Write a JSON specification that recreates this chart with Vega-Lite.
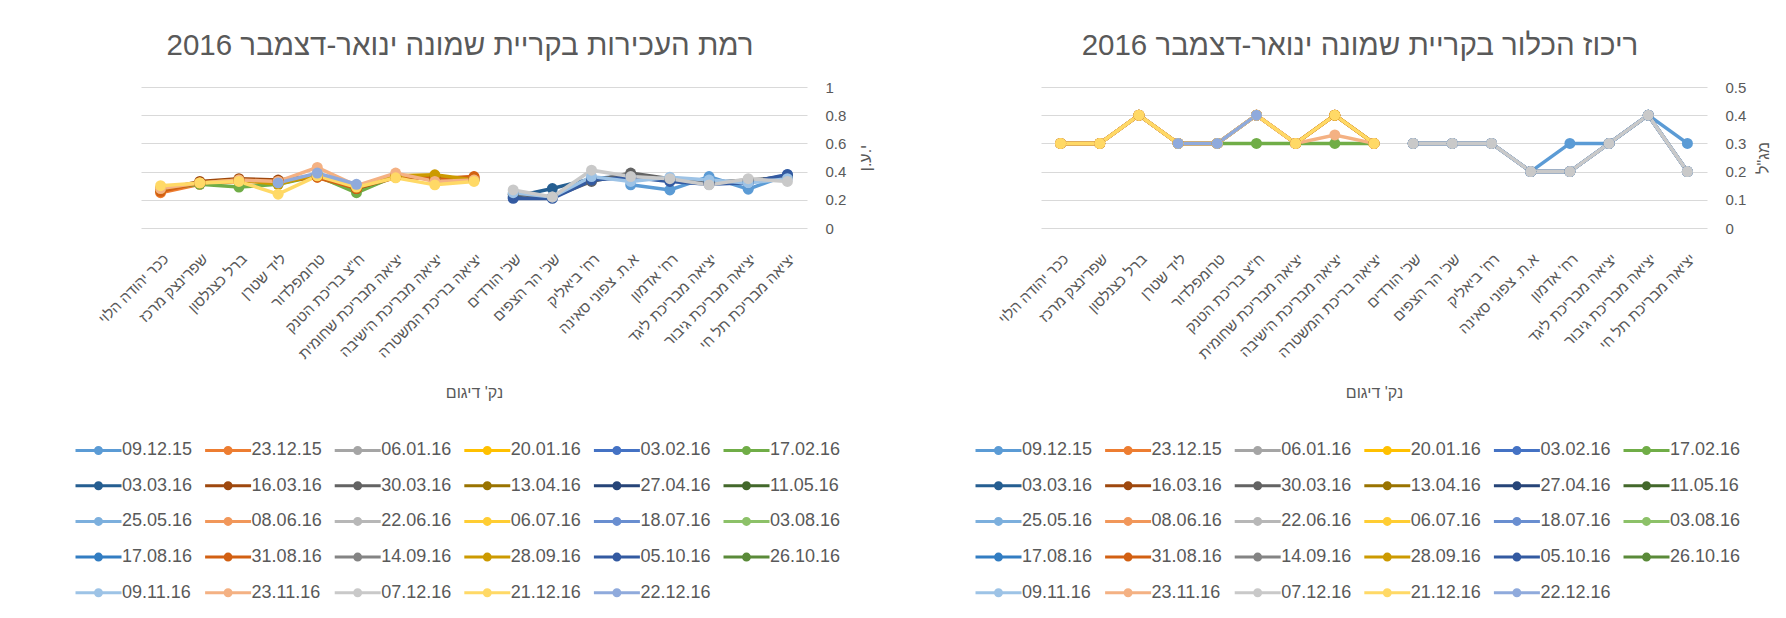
{
"$schema": "https://vega.github.io/schema/vega-lite/v6.json",
"autosize": {"type": "pad"},
"padding": {"left": 95, "top": 30, "right": 0, "bottom": 0},
"background": "white",
"bounds": "flush",
"spacing": 234,
"config": {
  "font": "Liberation Sans",
  "view": {"stroke": null},
  "axis": {"labelColor": "#595959", "titleColor": "#595959", "labelFont": "Liberation Sans", "titleFont": "Liberation Sans", "titleFontWeight": "normal", "gridColor": "#D9D9D9", "gridWidth": 1, "domain": false, "ticks": false},
  "title": {"fontSize": 29.5, "fontWeight": "normal", "color": "#595959", "font": "Liberation Sans", "offset": 19, "baseline": "alphabetic", "anchor": "middle", "dx": -14},
  "legend": {"orient": "none", "direction": "horizontal", "legendX": -39, "legendY": 354, "columns": 6, "title": null, "padding": 0,
    "symbolType": "M-5.07,0H1.5M-1.64,0A0.15,0.15,0,1,0,-1.94,0A0.15,0.15,0,1,0,-1.64,0M-1.36,0A0.43,0.43,0,1,0,-2.22,0A0.43,0.43,0,1,0,-1.36,0",
    "symbolSize": 196, "symbolStrokeWidth": 3, "labelFontSize": 18, "labelColor": "#595959", "labelFont": "Liberation Sans", "labelOffset": 2, "columnPadding": 5.6, "rowPadding": 15.7, "labelLimit": 200}
},
"datasets": {"d": [
{"d":"09.12.15","loc":"א.ת. צפוני סאינה","t":0.306,"c":0.2},
{"d":"09.12.15","loc":"רח' אדמון","t":0.27,"c":0.3},
{"d":"09.12.15","loc":"יציאה מבריכת ליגד","t":0.365,"c":0.3},
{"d":"09.12.15","loc":"יציאה מבריכת גיבור","t":0.275,"c":0.4},
{"d":"09.12.15","loc":"יציאה מבריכת תל חי","t":0.377,"c":0.3},
{"d":"23.12.15","loc":"ככר יהודה הלוי","t":0.25,"c":0.3},
{"d":"23.12.15","loc":"שפרינצק מרכז","t":0.31,"c":0.3},
{"d":"23.12.15","loc":"ברל כצנלסון","t":0.33,"c":0.4},
{"d":"23.12.15","loc":"ליד שטרן","t":0.33,"c":0.3},
{"d":"23.12.15","loc":"טרומפלדור","t":0.36,"c":0.3},
{"d":"23.12.15","loc":"ח\"צ בריכת הטנק","t":0.27,"c":0.4},
{"d":"23.12.15","loc":"יציאה מבריכת שחומית","t":0.36,"c":0.3},
{"d":"23.12.15","loc":"יציאה מבריכת הישיבה","t":0.35,"c":0.4},
{"d":"23.12.15","loc":"יציאה בריכת המשטרה","t":0.36,"c":0.3},
{"d":"17.02.16","loc":"ככר יהודה הלוי","t":0.28,"c":0.3},
{"d":"17.02.16","loc":"שפרינצק מרכז","t":0.31,"c":0.3},
{"d":"17.02.16","loc":"ברל כצנלסון","t":0.29,"c":0.4},
{"d":"17.02.16","loc":"ליד שטרן","t":0.31,"c":0.3},
{"d":"17.02.16","loc":"טרומפלדור","t":0.37,"c":0.3},
{"d":"17.02.16","loc":"ח\"צ בריכת הטנק","t":0.25,"c":0.3},
{"d":"17.02.16","loc":"יציאה מבריכת שחומית","t":0.37,"c":0.3},
{"d":"17.02.16","loc":"יציאה מבריכת הישיבה","t":0.35,"c":0.3},
{"d":"17.02.16","loc":"יציאה בריכת המשטרה","t":0.34,"c":0.3},
{"d":"03.03.16","loc":"שכ' הורדים","t":0.22,"c":0.3},
{"d":"03.03.16","loc":"שכ' הר הצפים","t":0.28,"c":0.3},
{"d":"03.03.16","loc":"רח' ביאליק","t":0.35,"c":0.3},
{"d":"03.03.16","loc":"א.ת. צפוני סאינה","t":0.37,"c":0.2},
{"d":"03.03.16","loc":"רח' אדמון","t":0.34,"c":0.2},
{"d":"03.03.16","loc":"יציאה מבריכת ליגד","t":0.33,"c":0.3},
{"d":"03.03.16","loc":"יציאה מבריכת גיבור","t":0.33,"c":0.4},
{"d":"03.03.16","loc":"יציאה מבריכת תל חי","t":0.37,"c":0.2},
{"d":"16.03.16","loc":"ככר יהודה הלוי","t":0.27,"c":0.3},
{"d":"16.03.16","loc":"שפרינצק מרכז","t":0.33,"c":0.3},
{"d":"16.03.16","loc":"ברל כצנלסון","t":0.35,"c":0.4},
{"d":"16.03.16","loc":"ליד שטרן","t":0.34,"c":0.3},
{"d":"16.03.16","loc":"טרומפלדור","t":0.37,"c":0.3},
{"d":"16.03.16","loc":"ח\"צ בריכת הטנק","t":0.28,"c":0.4},
{"d":"16.03.16","loc":"יציאה מבריכת שחומית","t":0.36,"c":0.3},
{"d":"16.03.16","loc":"יציאה מבריכת הישיבה","t":0.36,"c":0.4},
{"d":"16.03.16","loc":"יציאה בריכת המשטרה","t":0.35,"c":0.3},
{"d":"30.03.16","loc":"שכ' הורדים","t":0.24,"c":0.3},
{"d":"30.03.16","loc":"שכ' הר הצפים","t":0.22,"c":0.3},
{"d":"30.03.16","loc":"רח' ביאליק","t":0.33,"c":0.3},
{"d":"30.03.16","loc":"א.ת. צפוני סאינה","t":0.39,"c":0.2},
{"d":"30.03.16","loc":"רח' אדמון","t":0.35,"c":0.2},
{"d":"30.03.16","loc":"יציאה מבריכת ליגד","t":0.32,"c":0.3},
{"d":"30.03.16","loc":"יציאה מבריכת גיבור","t":0.34,"c":0.4},
{"d":"30.03.16","loc":"יציאה מבריכת תל חי","t":0.36,"c":0.2},
{"d":"31.08.16","loc":"ככר יהודה הלוי","t":0.26,"c":0.3},
{"d":"31.08.16","loc":"שפרינצק מרכז","t":0.32,"c":0.3},
{"d":"31.08.16","loc":"ברל כצנלסון","t":0.34,"c":0.4},
{"d":"31.08.16","loc":"ליד שטרן","t":0.33,"c":0.3},
{"d":"31.08.16","loc":"טרומפלדור","t":0.36,"c":0.3},
{"d":"31.08.16","loc":"ח\"צ בריכת הטנק","t":0.28,"c":0.4},
{"d":"31.08.16","loc":"יציאה מבריכת שחומית","t":0.37,"c":0.3},
{"d":"31.08.16","loc":"יציאה מבריכת הישיבה","t":0.35,"c":0.4},
{"d":"31.08.16","loc":"יציאה בריכת המשטרה","t":0.365,"c":0.3},
{"d":"28.09.16","loc":"ככר יהודה הלוי","t":0.28,"c":0.3},
{"d":"28.09.16","loc":"שפרינצק מרכז","t":0.32,"c":0.3},
{"d":"28.09.16","loc":"ברל כצנלסון","t":0.34,"c":0.4},
{"d":"28.09.16","loc":"ליד שטרן","t":0.31,"c":0.3},
{"d":"28.09.16","loc":"טרומפלדור","t":0.38,"c":0.3},
{"d":"28.09.16","loc":"ח\"צ בריכת הטנק","t":0.29,"c":0.4},
{"d":"28.09.16","loc":"יציאה מבריכת שחומית","t":0.37,"c":0.3},
{"d":"28.09.16","loc":"יציאה מבריכת הישיבה","t":0.377,"c":0.4},
{"d":"28.09.16","loc":"יציאה בריכת המשטרה","t":0.34,"c":0.3},
{"d":"05.10.16","loc":"שכ' הורדים","t":0.21,"c":0.3},
{"d":"05.10.16","loc":"שכ' הר הצפים","t":0.21,"c":0.3},
{"d":"05.10.16","loc":"רח' ביאליק","t":0.34,"c":0.3},
{"d":"05.10.16","loc":"א.ת. צפוני סאינה","t":0.36,"c":0.2},
{"d":"05.10.16","loc":"רח' אדמון","t":0.33,"c":0.2},
{"d":"05.10.16","loc":"יציאה מבריכת ליגד","t":0.31,"c":0.3},
{"d":"05.10.16","loc":"יציאה מבריכת גיבור","t":0.32,"c":0.4},
{"d":"05.10.16","loc":"יציאה מבריכת תל חי","t":0.38,"c":0.2},
{"d":"09.11.16","loc":"שכ' הורדים","t":0.25,"c":0.3},
{"d":"09.11.16","loc":"שכ' הר הצפים","t":0.22,"c":0.3},
{"d":"09.11.16","loc":"רח' ביאליק","t":0.365,"c":0.3},
{"d":"09.11.16","loc":"א.ת. צפוני סאינה","t":0.33,"c":0.2},
{"d":"09.11.16","loc":"רח' אדמון","t":0.36,"c":0.2},
{"d":"09.11.16","loc":"יציאה מבריכת ליגד","t":0.34,"c":0.3},
{"d":"09.11.16","loc":"יציאה מבריכת גיבור","t":0.32,"c":0.4},
{"d":"09.11.16","loc":"יציאה מבריכת תל חי","t":0.35,"c":0.2},
{"d":"23.11.16","loc":"ככר יהודה הלוי","t":0.28,"c":0.3},
{"d":"23.11.16","loc":"שפרינצק מרכז","t":0.32,"c":0.3},
{"d":"23.11.16","loc":"ברל כצנלסון","t":0.34,"c":0.4},
{"d":"23.11.16","loc":"ליד שטרן","t":0.33,"c":0.3},
{"d":"23.11.16","loc":"טרומפלדור","t":0.43,"c":0.3},
{"d":"23.11.16","loc":"ח\"צ בריכת הטנק","t":0.30,"c":0.4},
{"d":"23.11.16","loc":"יציאה מבריכת שחומית","t":0.39,"c":0.3},
{"d":"23.11.16","loc":"יציאה מבריכת הישיבה","t":0.33,"c":0.33},
{"d":"23.11.16","loc":"יציאה בריכת המשטרה","t":0.34,"c":0.3},
{"d":"07.12.16","loc":"שכ' הורדים","t":0.27,"c":0.3},
{"d":"07.12.16","loc":"שכ' הר הצפים","t":0.22,"c":0.3},
{"d":"07.12.16","loc":"רח' ביאליק","t":0.41,"c":0.3},
{"d":"07.12.16","loc":"א.ת. צפוני סאינה","t":0.365,"c":0.2},
{"d":"07.12.16","loc":"רח' אדמון","t":0.35,"c":0.2},
{"d":"07.12.16","loc":"יציאה מבריכת ליגד","t":0.306,"c":0.3},
{"d":"07.12.16","loc":"יציאה מבריכת גיבור","t":0.35,"c":0.4},
{"d":"07.12.16","loc":"יציאה מבריכת תל חי","t":0.33,"c":0.2},
{"d":"21.12.16","loc":"ככר יהודה הלוי","t":0.30,"c":0.3},
{"d":"21.12.16","loc":"שפרינצק מרכז","t":0.32,"c":0.3},
{"d":"21.12.16","loc":"ברל כצנלסון","t":0.33,"c":0.4},
{"d":"21.12.16","loc":"ליד שטרן","t":0.24,"c":0.3},
{"d":"21.12.16","loc":"טרומפלדור","t":0.37,"c":0.3},
{"d":"21.12.16","loc":"ח\"צ בריכת הטנק","t":0.29,"c":0.4},
{"d":"21.12.16","loc":"יציאה מבריכת שחומית","t":0.356,"c":0.3},
{"d":"21.12.16","loc":"יציאה מבריכת הישיבה","t":0.306,"c":0.4},
{"d":"21.12.16","loc":"יציאה בריכת המשטרה","t":0.33,"c":0.3},
{"d":"22.12.16","loc":"ליד שטרן","t":0.32,"c":0.3},
{"d":"22.12.16","loc":"טרומפלדור","t":0.39,"c":0.3},
{"d":"22.12.16","loc":"ח\"צ בריכת הטנק","t":0.31,"c":0.4}
]},
"resolve": {"scale": {"color": "independent"}, "legend": {"color": "independent"}},
"hconcat": [
{
  "width": 666, "height": 141,
  "data": {"name": "d"},
  "title": {"text": "רמת העכירות בקריית שמונה ינואר-דצמבר 2016"},
  "mark": {"type": "line", "strokeWidth": 3.5, "point": {"filled": true, "size": 120}},
  "encoding": {
    "x": {"field": "loc", "type": "nominal", "sort": null,
      "scale": {"type": "point", "padding": 0.5, "domain": ["ככר יהודה הלוי","שפרינצק מרכז","ברל כצנלסון","ליד שטרן","טרומפלדור","ח\"צ בריכת הטנק","יציאה מבריכת שחומית","יציאה מבריכת הישיבה","יציאה בריכת המשטרה","שכ' הורדים","שכ' הר הצפים","רח' ביאליק","א.ת. צפוני סאינה","רח' אדמון","יציאה מבריכת ליגד","יציאה מבריכת גיבור","יציאה מבריכת תל חי"]},
      "axis": {"title": "נק' דיגום", "labelAngle": -45, "labelFontSize": 15, "labelPadding": 23, "titleFontSize": 16, "titlePadding": 23, "grid": false}},
    "y": {"field": "t", "type": "quantitative", "scale": {"domain": [0, 1], "nice": false},
      "axis": {"orient": "right", "values": [0, 0.2, 0.4, 0.6, 0.8, 1], "format": "~g", "title": "י.ע.ן", "titleAngle": 270, "labelFontSize": 15, "labelPadding": 18, "titleFontSize": 16, "titlePadding": 28}},
    "color": {"field": "d", "type": "nominal", "sort": null,
      "scale": {"domain": ["09.12.15","23.12.15","06.01.16","20.01.16","03.02.16","17.02.16","03.03.16","16.03.16","30.03.16","13.04.16","27.04.16","11.05.16","25.05.16","08.06.16","22.06.16","06.07.16","18.07.16","03.08.16","17.08.16","31.08.16","14.09.16","28.09.16","05.10.16","26.10.16","09.11.16","23.11.16","07.12.16","21.12.16","22.12.16"],
        "range": ["#5B9BD5","#ED7D31","#A5A5A5","#FFC000","#4472C4","#70AD47","#255E91","#9E480E","#636363","#997300","#264478","#43682B","#7CAFDD","#F1975A","#B7B7B7","#FFCD33","#698ED0","#8CC168","#327DC2","#D26012","#848484","#CC9A00","#335AA1","#5A8A39","#9DC3E6","#F4B183","#C9C9C9","#FFD966","#8FAADC"]}}
  }
},
{
  "width": 666, "height": 141,
  "data": {"name": "d"},
  "title": {"text": "ריכוז הכלור בקריית שמונה ינואר-דצמבר 2016"},
  "mark": {"type": "line", "strokeWidth": 3.5, "point": {"filled": true, "size": 120}},
  "encoding": {
    "x": {"field": "loc", "type": "nominal", "sort": null,
      "scale": {"type": "point", "padding": 0.5, "domain": ["ככר יהודה הלוי","שפרינצק מרכז","ברל כצנלסון","ליד שטרן","טרומפלדור","ח\"צ בריכת הטנק","יציאה מבריכת שחומית","יציאה מבריכת הישיבה","יציאה בריכת המשטרה","שכ' הורדים","שכ' הר הצפים","רח' ביאליק","א.ת. צפוני סאינה","רח' אדמון","יציאה מבריכת ליגד","יציאה מבריכת גיבור","יציאה מבריכת תל חי"]},
      "axis": {"title": "נק' דיגום", "labelAngle": -45, "labelFontSize": 15, "labelPadding": 23, "titleFontSize": 16, "titlePadding": 23, "grid": false}},
    "y": {"field": "c", "type": "quantitative", "scale": {"domain": [0, 0.5], "nice": false},
      "axis": {"orient": "right", "values": [0, 0.1, 0.2, 0.3, 0.4, 0.5], "format": "~g", "title": "מג\"ל", "titleAngle": 270, "labelFontSize": 15, "labelPadding": 18, "titleFontSize": 16, "titlePadding": 26}},
    "color": {"field": "d", "type": "nominal", "sort": null,
      "scale": {"domain": ["09.12.15","23.12.15","06.01.16","20.01.16","03.02.16","17.02.16","03.03.16","16.03.16","30.03.16","13.04.16","27.04.16","11.05.16","25.05.16","08.06.16","22.06.16","06.07.16","18.07.16","03.08.16","17.08.16","31.08.16","14.09.16","28.09.16","05.10.16","26.10.16","09.11.16","23.11.16","07.12.16","21.12.16","22.12.16"],
        "range": ["#5B9BD5","#ED7D31","#A5A5A5","#FFC000","#4472C4","#70AD47","#255E91","#9E480E","#636363","#997300","#264478","#43682B","#7CAFDD","#F1975A","#B7B7B7","#FFCD33","#698ED0","#8CC168","#327DC2","#D26012","#848484","#CC9A00","#335AA1","#5A8A39","#9DC3E6","#F4B183","#C9C9C9","#FFD966","#8FAADC"]}}
  }
}
]
}
